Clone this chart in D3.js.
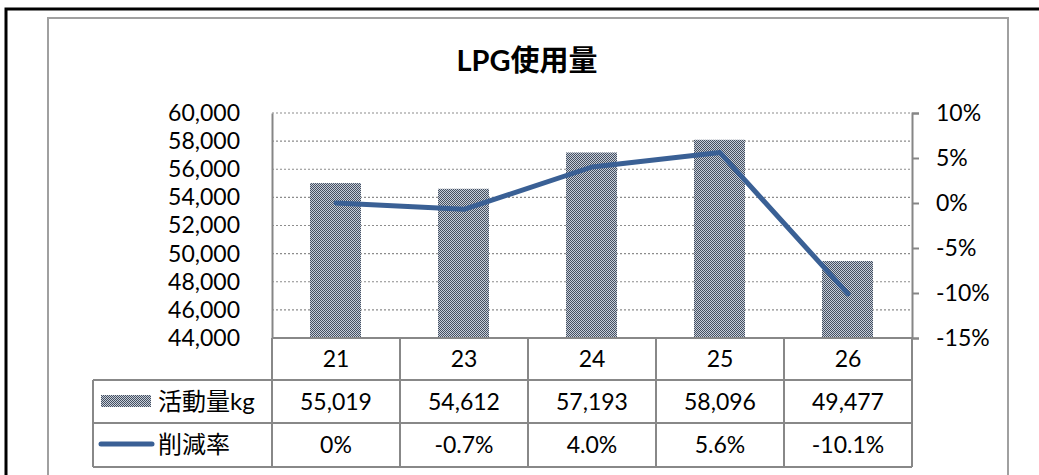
<!DOCTYPE html>
<html>
<head>
<meta charset="utf-8">
<script src="https://cdn.jsdelivr.net/npm/d3@7"></script>
<style>
  body { margin: 0; background: #fff; }
  text { font-family: Lato, "Noto Sans CJK JP", sans-serif; fill: #000; }
</style>
</head>
<body>
<div id="chart"></div>
<script>
// data
const years = ["21", "23", "24", "25", "26"];
const amounts = [55019, 54612, 57193, 58096, 49477];
const rates = [0, -0.7, 4.0, 5.6, -10.1];
const rateLabels = ["0%", "-0.7%", "4.0%", "5.6%", "-10.1%"];
const leftTicks = [44000, 46000, 48000, 50000, 52000, 54000, 56000, 58000, 60000];
const rightTicks = [-15, -10, -5, 0, 5, 10];

const W = 1039, H = 475;
const plot = { left: 272, right: 912, top: 113, bottom: 338 };
const rowY = [338, 380, 423, 467]; // table row edges
const tableLeft = 93;
const fs = "23px";

const svg = d3.select("#chart").append("svg")
  .attr("width", W).attr("height", H);

// checkerboard fill for the bars
const defs = svg.append("defs");
const pat = defs.append("pattern")
  .attr("id", "chk").attr("patternUnits", "userSpaceOnUse")
  .attr("width", 2).attr("height", 2);
pat.append("rect").attr("width", 2).attr("height", 2).attr("fill", "#c6cedb");
pat.append("rect").attr("width", 1).attr("height", 1).attr("fill", "#46505f");
pat.append("rect").attr("x", 1).attr("y", 1).attr("width", 1).attr("height", 1).attr("fill", "#46505f");

// frames
svg.append("rect").attr("x", 6).attr("y", 9).attr("width", 1050).attr("height", 500)
  .attr("fill", "none").attr("stroke", "#000").attr("stroke-width", 3);
svg.append("rect").attr("x", 48).attr("y", 18).attr("width", 960).attr("height", 500)
  .attr("fill", "none").attr("stroke", "#a0a0a0").attr("stroke-width", 2);

// title
svg.append("text")
  .attr("x", 527).attr("y", 71)
  .attr("text-anchor", "middle")
  .attr("font-size", "29px").attr("font-weight", "bold")
  .text("LPG使用量");

// scales
const x = d3.scaleBand().domain(years).range([plot.left, plot.right]).paddingInner(0).paddingOuter(0);
const yL = d3.scaleLinear().domain([44000, 60000]).range([plot.bottom, plot.top]);
const yR = d3.scaleLinear().domain([-15, 10]).range([plot.bottom, plot.top]);

// gridlines
svg.append("g").selectAll("line")
  .data(leftTicks.filter(d => d > 44000))
  .join("line")
  .attr("x1", plot.left).attr("x2", plot.right)
  .attr("y1", d => yL(d)).attr("y2", d => yL(d))
  .attr("stroke", "#8c8c8c").attr("stroke-width", 1.2)
  .attr("stroke-dasharray", "2,2");

// bars
const barW = x.bandwidth() / 2.5;
svg.append("g").selectAll("rect")
  .data(amounts)
  .join("rect")
  .attr("x", (d, i) => Math.round(x(years[i]) + (x.bandwidth() - barW) / 2))
  .attr("y", d => yL(d))
  .attr("width", Math.round(barW))
  .attr("height", d => plot.bottom - yL(d))
  .attr("fill", "url(#chk)");

// left axis
const leftAxis = svg.append("g")
  .attr("transform", `translate(${plot.left},0)`)
  .call(d3.axisLeft(yL).tickValues(leftTicks).tickSize(0).tickPadding(32).tickFormat(d3.format(",")));
leftAxis.select(".domain").attr("stroke", "#868686").attr("stroke-width", 2);
leftAxis.selectAll("text").attr("font-size", fs).attr("font-family", "Lato, sans-serif").attr("fill", "#000");

// right axis
const rightAxis = svg.append("g")
  .attr("transform", `translate(${plot.right},0)`)
  .call(d3.axisRight(yR).tickValues(rightTicks).tickSize(7).tickPadding(17).tickFormat(d => d + "%"));
rightAxis.select(".domain").attr("stroke", "#868686").attr("stroke-width", 2);
rightAxis.selectAll(".tick line").attr("stroke", "#868686").attr("stroke-width", 2);
rightAxis.selectAll("text").attr("font-size", fs).attr("font-family", "Lato, sans-serif").attr("fill", "#000");

// line
const line = d3.line()
  .x((d, i) => x(years[i]) + x.bandwidth() / 2)
  .y(d => yR(d));
svg.append("path")
  .datum(rates)
  .attr("d", line)
  .attr("fill", "none")
  .attr("stroke", "#3a6095")
  .attr("stroke-width", 5)
  .attr("stroke-linejoin", "round")
  .attr("stroke-linecap", "round");

// data table
const grid = svg.append("g").attr("stroke", "#888").attr("stroke-width", 2);
grid.append("line").attr("x1", plot.left).attr("x2", plot.right).attr("y1", rowY[0]).attr("y2", rowY[0]);
[rowY[1], rowY[2], rowY[3]].forEach(y =>
  grid.append("line").attr("x1", tableLeft).attr("x2", plot.right).attr("y1", y).attr("y2", y));
grid.append("line").attr("x1", tableLeft).attr("x2", tableLeft).attr("y1", rowY[1]).attr("y2", rowY[3]);
years.concat(["end"]).forEach((c, i) => {
  const xx = plot.left + i * x.bandwidth();
  grid.append("line").attr("x1", xx).attr("x2", xx).attr("y1", rowY[0]).attr("y2", rowY[3]);
});

const cellText = (vals, r) => svg.append("g").selectAll("text")
  .data(vals)
  .join("text")
  .attr("x", (d, i) => x(years[i]) + x.bandwidth() / 2)
  .attr("y", (rowY[r] + rowY[r + 1]) / 2 + 8)
  .attr("text-anchor", "middle")
  .attr("font-size", fs)
  .text(d => d);
cellText(years, 0);
cellText(amounts.map(d3.format(",")), 1);
cellText(rateLabels, 2);

// legend inside table
svg.append("rect").attr("x", 101).attr("y", 395).attr("width", 50).attr("height", 12).attr("fill", "url(#chk)");
svg.append("text").attr("x", 158).attr("y", 410).attr("font-size", "24px").text("活動量kg");
svg.append("line").attr("x1", 101).attr("x2", 152).attr("y1", 444).attr("y2", 444)
  .attr("stroke", "#3a6095").attr("stroke-width", 5).attr("stroke-linecap", "round");
svg.append("text").attr("x", 158).attr("y", 453).attr("font-size", "24px").text("削減率");
</script>
</body>
</html>
